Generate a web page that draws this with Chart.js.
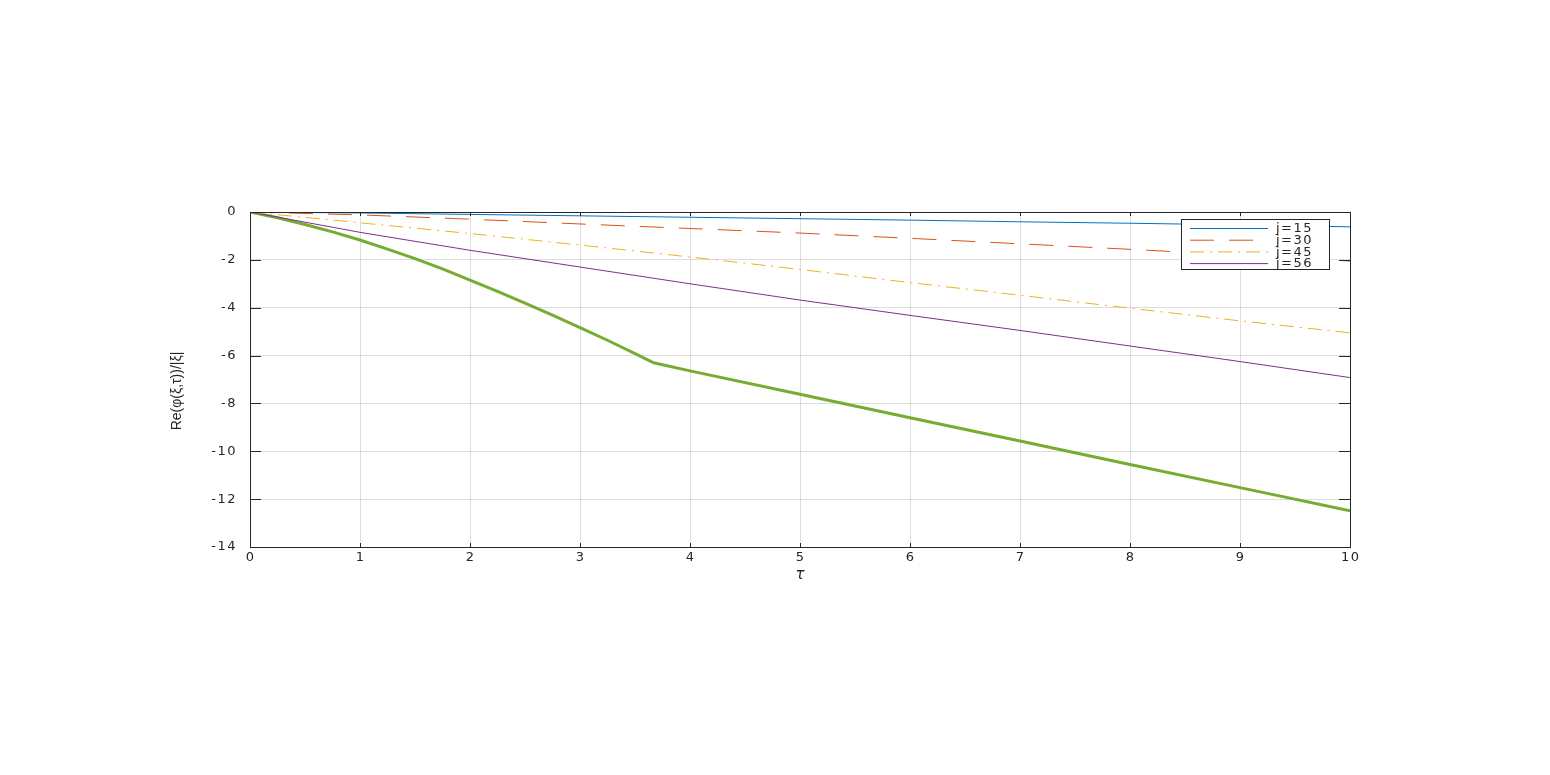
<!DOCTYPE html>
<html>
<head>
<meta charset="utf-8">
<script src="https://cdn.jsdelivr.net/npm/chart.js@4/dist/chart.umd.min.js"></script>
<style>
  html, body { margin: 0; padding: 0; background: #fff; }
  #wrap { width: 1550px; height: 775px; }
</style>
</head>
<body>
<div id="wrap"><canvas id="grafica"></canvas></div>
<script>
// tau values and curves
const tau = [0, 1, 2, 3, 4, 5, 6, 7, 8, 9, 10];
const j15 = [0, -0.04, -0.1, -0.16, -0.22, -0.28, -0.34, -0.41, -0.47, -0.54, -0.62];
const j30 = [0, -0.12, -0.3, -0.5, -0.69, -0.88, -1.1, -1.33, -1.56, -1.8, -2.05];
const j45 = [0, -0.45, -0.9, -1.38, -1.88, -2.4, -2.95, -3.48, -4.02, -4.55, -5.05];
const j56 = [0, -0.85, -1.6, -2.3, -3.0, -3.68, -4.32, -4.95, -5.6, -6.25, -6.92];
const tauBound = [0, 0.25, 0.5, 0.75, 1, 1.25, 1.5, 1.75, 2, 2.25, 2.5, 2.75, 3, 3.25, 3.5, 3.67, 4, 5, 6, 7, 8, 9, 10];
const bound = [0, -0.24, -0.52, -0.83, -1.17, -1.55, -1.95, -2.38, -2.85, -3.32, -3.81, -4.31, -4.83,
  -5.36, -5.92, -6.3, -6.64, -7.62, -8.6, -9.57, -10.55, -11.52, -12.49];
const xTicks = [0, 1, 2, 3, 4, 5, 6, 7, 8, 9, 10];
const yTicks = [-14, -12, -10, -8, -6, -4, -2, 0];
const xTitle = 'τ';
const yTitle = 'Re(φ(ξ,τ))/|ξ|';

const pts = (xs, ys) => xs.map((x, i) => ({ x, y: ys[i] }));
const axisColor = '#262626';
const spacing = 1.5; // wide tick text like the original
const tickFont = { family: 'DejaVu Sans, sans-serif', size: 13 };

const series = [
  { label: 'j=15', data: pts(tau, j15), borderColor: '#0072BD', borderWidth: 1, borderDash: [], legend: true },
  { label: 'j=30', data: pts(tau, j30), borderColor: '#D95319', borderWidth: 1, borderDash: [24, 15], legend: true },
  { label: 'j=45', data: pts(tau, j45), borderColor: '#EDB120', borderWidth: 1, borderDash: [14, 6, 2, 6], legend: true },
  { label: 'j=56', data: pts(tau, j56), borderColor: '#7E2F8E', borderWidth: 1, borderDash: [], legend: true },
  { label: 'bound', data: pts(tauBound, bound), borderColor: '#77AC30', borderWidth: 3, borderDash: [], legend: false },
];

// matlab style box, inward ticks, titles and legend
const boxPlugin = {
  id: 'box',
  beforeDraw(chart) {
    chart.ctx.letterSpacing = `${spacing}px`;
  },
  afterDraw(chart) {
    const { ctx, chartArea: a, scales } = chart;
    ctx.save();
    ctx.letterSpacing = '0px';
    ctx.strokeStyle = axisColor;
    ctx.lineWidth = 1;
    ctx.strokeRect(a.left + 0.5, a.top + 0.5, a.right - a.left, a.bottom - a.top);
    ctx.beginPath();
    xTicks.forEach((t) => {
      const px = Math.round(scales.x.getPixelForValue(t)) + 0.5;
      ctx.moveTo(px, a.bottom); ctx.lineTo(px, a.bottom - 4);
      ctx.moveTo(px, a.top); ctx.lineTo(px, a.top + 4);
    });
    yTicks.forEach((t) => {
      const py = Math.round(scales.y.getPixelForValue(t)) + 0.5;
      ctx.moveTo(a.left, py); ctx.lineTo(a.left + 11, py);
      ctx.moveTo(a.right, py); ctx.lineTo(a.right - 11, py);
    });
    ctx.stroke();

    // axis titles
    ctx.fillStyle = axisColor;
    ctx.textAlign = 'center';
    ctx.textBaseline = 'middle';
    ctx.font = 'oblique 15px DejaVu Sans, sans-serif';
    ctx.fillText(xTitle, (a.left + a.right) / 2, 575);
    ctx.save();
    ctx.translate(177, 391);
    ctx.rotate(-Math.PI / 2);
    ctx.font = '14px Liberation Sans Narrow, Liberation Sans, sans-serif';
    ctx.fillText(yTitle, 0, 0);
    ctx.restore();

    // legend
    const items = chart.data.datasets.filter((d) => d.legend);
    const lx = 1181.5;
    const ly = 219.5;
    ctx.fillStyle = '#fff';
    ctx.fillRect(lx, ly, 148, 50);
    ctx.strokeStyle = axisColor;
    ctx.strokeRect(lx, ly, 148, 50);
    ctx.font = '13px DejaVu Sans, sans-serif';
    ctx.letterSpacing = `${spacing}px`;
    ctx.textAlign = 'left';
    items.forEach((d, i) => {
      const y = 228.5 + i * 11.7;
      ctx.beginPath();
      ctx.strokeStyle = d.borderColor;
      ctx.lineWidth = d.borderWidth;
      ctx.setLineDash(d.borderDash);
      ctx.moveTo(1190, y); ctx.lineTo(1268, y);
      ctx.stroke();
      ctx.setLineDash([]);
      ctx.fillStyle = axisColor;
      ctx.fillText(d.label, 1276, y + 0.5);
    });
    ctx.restore();
  },
};

// eslint-disable-next-line no-new, no-undef
new Chart(document.querySelector('#grafica'), {
  type: 'line',
  data: {
    datasets: series.map((s) => ({
      ...s,
      fill: false,
      pointRadius: 0,
      tension: 0,
    })),
  },
  options: {
    responsive: true,
    maintainAspectRatio: false,
    animation: false,
    devicePixelRatio: 1,
    layout: { padding: { left: 164, right: 200, top: 212, bottom: 186 } },
    plugins: { legend: { display: false }, tooltip: { enabled: false } },
    scales: {
      x: {
        type: 'linear',
        min: 0,
        max: 10,
        afterFit: (s) => { s.height = 42; },
        afterBuildTicks: (s) => { s.ticks = xTicks.map((v) => ({ value: v })); },
        border: { display: false },
        grid: { color: 'rgba(0,0,0,0.13)', drawTicks: false },
        ticks: { color: axisColor, font: tickFont, padding: 3, maxRotation: 0, labelOffset: spacing / 2 },
      },
      y: {
        type: 'linear',
        min: -14,
        max: 0,
        afterFit: (s) => { s.width = 86; },
        afterBuildTicks: (s) => { s.ticks = yTicks.map((v) => ({ value: v })); },
        border: { display: false },
        grid: { color: 'rgba(0,0,0,0.13)', drawTicks: false },
        ticks: { color: axisColor, font: tickFont, padding: 13 },
      },
    },
  },
  plugins: [boxPlugin],
});
</script>
</body>
</html>
